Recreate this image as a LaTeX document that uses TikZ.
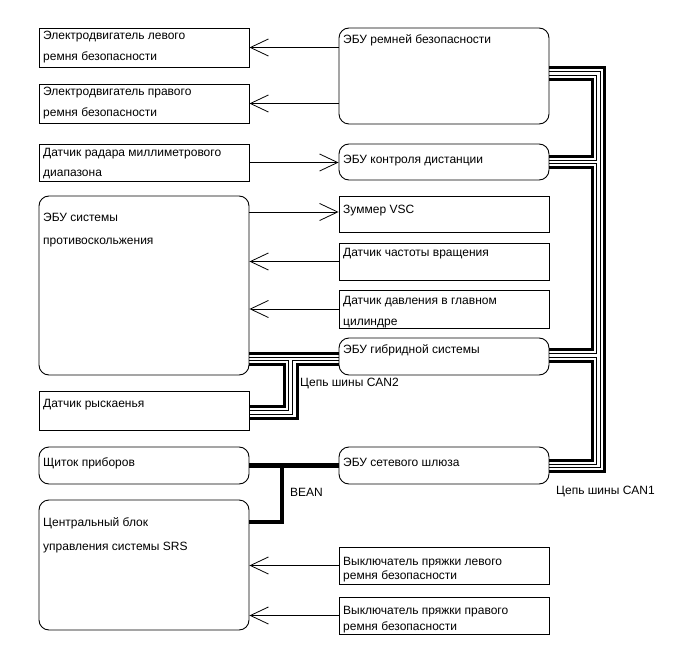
\documentclass[tikz,border=0pt]{standalone}
\usepackage{fontspec}
\setmainfont{Liberation Sans}
\usetikzlibrary{arrows.meta}
\begin{document}
\begin{tikzpicture}[x=1pt,y=-1pt,
  box/.style={draw, line width=0.9pt, inner sep=0pt, minimum width=210pt},
  rbox/.style={box, rounded corners=10pt},
  txt/.style={font=\fontsize{12}{13}\selectfont, anchor=base west, inner sep=0pt},
  sig/.style={line width=0.8pt, -{Straight Barb[length=18pt,width=17pt,line width=0.8pt]}},
  thk/.style={line width=3pt, line join=miter},
  thn/.style={line width=1pt, line join=miter},
  bean/.style={line width=4.5pt, line join=miter}]
\useasboundingbox (0,0) rectangle (690,660);
% left boxes
\node[box,  minimum height=39pt]  (L1) at (144,47.5) {};
\node[box,  minimum height=39pt]  (L2) at (144,103.5) {};
\node[box,  minimum height=37pt]  (L3) at (144,162.5) {};
\node[rbox, minimum height=179pt] (L4) at (144,285.5) {};
\node[box,  minimum height=39pt]  (L5) at (144,410.5) {};
\node[rbox, minimum height=37pt]  (L6) at (144,465.5) {};
\node[rbox, minimum height=130pt] (L7) at (144,565) {};
% right boxes
\node[rbox, minimum height=96pt]  (R1) at (444,76) {};
\node[rbox, minimum height=36pt]  (R2) at (444,162) {};
\node[box,  minimum height=36pt]  (R3) at (444,214) {};
\node[box,  minimum height=37pt]  (R4) at (444,261.5) {};
\node[box,  minimum height=38pt]  (R5) at (444,309) {};
\node[rbox, minimum height=37pt]  (R6) at (444,356.5) {};
\node[rbox, minimum height=37pt]  (R7) at (444,465.5) {};
\node[box,  minimum height=37pt]  (R8) at (444,565.5) {};
\node[box,  minimum height=37pt]  (R9) at (444,615.5) {};
% texts
\node[txt] (L1a) at (43,40) {Электродвигатель левого};
\node[txt] (L1b) at (43,61) {ремня безопасности};
\node[txt] (L2a) at (43,96) {Электродвигатель правого};
\node[txt] (L2b) at (43,117) {ремня безопасности};
\node[txt] (L3a) at (43,157) {Датчик радара миллиметрового};
\node[txt] (L3b) at (43,177) {диапазона};
\node[txt] (L4a) at (43,222) {ЭБУ системы};
\node[txt] (L4b) at (43,244) {противоскольжения};
\node[txt] (L5a) at (43,407) {Датчик рыскаенья};
\node[txt] (L6a) at (43,466) {Щиток приборов};
\node[txt] (L7a) at (43,526) {Центральный блок};
\node[txt] (L7b) at (43,550) {управления системы SRS};
\node[txt] (R1a) at (343,44) {ЭБУ ремней безопасности};
\node[txt] (R2a) at (343,164) {ЭБУ контроля дистанции};
\node[txt] (R3a) at (343,214) {Зуммер VSC};
\node[txt] (R4a) at (343,257) {Датчик частоты вращения};
\node[txt] (R5a) at (343,304) {Датчик давления в главном};
\node[txt] (R5b) at (343,325) {цилиндре};
\node[txt] (R6a) at (343,353) {ЭБУ гибридной системы};
\node[txt] (R7a) at (343,466) {ЭБУ сетевого шлюза};
\node[txt] (R8a) at (343,565) {Выключатель пряжки левого};
\node[txt] (R8b) at (343,579) {ремня безопасности};
\node[txt] (R9a) at (343,614) {Выключатель пряжки правого};
\node[txt] (R9b) at (343,630) {ремня безопасности};
\node[txt] (can2) at (300,386) {Цепь шины CAN2};
\node[txt] (can1) at (556,494) {Цепь шины CAN1};
\node[txt] (beanl) at (290,496) {BEAN};
% signal arrows
\draw[sig] (R1.west |- L1.east) -- (L1.east);
\draw[sig] (R1.west |- L2.east) -- (L2.east);
\draw[sig] (L3.east) -- (R2.west |- L3.east);
\draw[sig] (L4.east |- 0,212) -- (R3.west |- 0,212);
\draw[sig] (R4.west) -- (L4.east |- R4.west);
\draw[sig] (R5.west) -- (L4.east |- R5.west);
\draw[sig] (R8.west) -- (L7.east |- R8.west);
\draw[sig] (R9.west) -- (L7.east |- R9.west);
% CAN1
\draw[thk] (R1.east |- 0,68) -- (604,68) -- (604,471) -- (R7.east |- 0,471);
\draw[thn] (R1.east |- 0,72) -- (600,72) -- (600,467.5) -- (R7.east |- 0,467.5);
\draw[thn] (R1.east |- 0,76) -- (596,76) -- (596,160.5) -- (R2.east |- 0,160.5);
\draw[thk] (R1.east |- 0,80) -- (592,80) -- (592,156.5) -- (R2.east |- 0,156.5);
\draw[thn] (R2.east |- 0,164) -- (596,164) -- (596,353) -- (R6.east |- 0,353);
\draw[thk] (R2.east |- 0,167.5) -- (592,167.5) -- (592,349) -- (R6.east |- 0,349);
\draw[thn] (R6.east |- 0,357) -- (596,357) -- (596,464) -- (R7.east |- 0,464);
\draw[thk] (R6.east |- 0,361) -- (592,361) -- (592,460) -- (R7.east |- 0,460);
% CAN2
\draw[thk] (L4.east |- 0,353) -- (R6.west |- 0,353);
\draw[thn] (L4.east |- 0,357) -- (R6.west |- 0,357);
\draw[thn] (L4.east |- 0,360.5) -- (288.5,360.5) -- (288.5,410.5) -- (L5.east |- 0,410.5);
\draw[thk] (L4.east |- 0,364) -- (284.5,364) -- (284.5,406.5) -- (L5.east |- 0,406.5);
\draw[thn] (R6.west |- 0,360.5) -- (292.5,360.5) -- (292.5,414) -- (L5.east |- 0,414);
\draw[thk] (R6.west |- 0,364) -- (297,364) -- (297,418) -- (L5.east |- 0,418);
% BEAN
\coordinate (bj) at (282,465.5);
\draw[bean] (L6.east) -- (R7.west);
\draw[bean] (bj) -- (bj |- 0,522) -- (L7.east |- 0,522);
\end{tikzpicture}
\end{document}
